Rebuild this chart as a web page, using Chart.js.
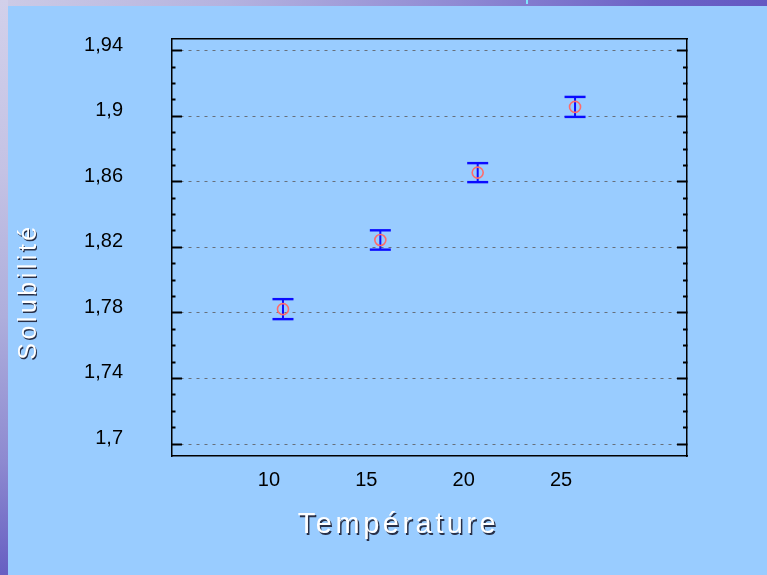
<!DOCTYPE html>
<html>
<head>
<meta charset="utf-8">
<script src="https://cdn.jsdelivr.net/npm/chart.js@4/dist/chart.umd.min.js"></script>
<style>
  html, body { margin: 0; padding: 0; }
  body { width: 767px; height: 575px; overflow: hidden; position: relative; background: #99ccff; }
  #stripeTop { position: absolute; left: 0; top: 0; width: 767px; height: 6px;
    background: linear-gradient(90deg, #cdcbe6 0%, #b4b2df 30%, #8f89d3 60%, #6c62c6 85%, #6458c2 100%); }
  #stripeLeft { position: absolute; left: 0; top: 0; width: 8px; height: 575px;
    background: linear-gradient(180deg, #d2d0ea 0%, #c4c2e4 30%, #aeaedc 55%, #8e8ad0 80%, #675fc2 100%); }
  #mark { position: absolute; left: 526px; top: 0; width: 2px; height: 4px; background: #7fe6ff; }
  #c { position: absolute; left: 0; top: 0; }
</style>
</head>
<body>
<div id="stripeTop"></div>
<div id="stripeLeft"></div>
<div id="mark"></div>
<canvas id="c" width="767" height="575"></canvas>
<script>
// ---- data ----
const temperatures = [10, 15, 20, 25];
const solubilityMeans = [1.7823, 1.8245, 1.8656, 1.9057];
const errorHalfWidths = [0.0061, 0.0059, 0.0058, 0.0061];
const xTickLabels = ['10', '15', '20', '25'];
const yMajorTickValues = [1.70, 1.74, 1.78, 1.82, 1.86, 1.90, 1.94];
const yTickLabels = ['1,7', '1,74', '1,78', '1,82', '1,86', '1,9', '1,94'];
const yMinorStep = 0.01;
const xTitle = 'Température';
const yTitle = 'Solubilité';

// ---- derived structures ----
const yAllTicks = [];
for (let v = yMajorTickValues[0]; v <= yMajorTickValues[yMajorTickValues.length - 1] + 1e-9; v += yMinorStep) {
  yAllTicks.push(Math.round(v * 100) / 100);
}
const isMajor = v => yMajorTickValues.some(m => Math.abs(m - v) < 1e-6);

const meanPoints = temperatures.map((t, i) => ({x: t, y: solubilityMeans[i]}));
const capPoints = [];
const barPoints = [];
temperatures.forEach((t, i) => {
  const lo = solubilityMeans[i] - errorHalfWidths[i];
  const hi = solubilityMeans[i] + errorHalfWidths[i];
  capPoints.push({x: t, y: lo}, {x: t, y: hi});
  barPoints.push({x: t, y: lo}, {x: t, y: hi}, {x: t, y: null});
});

const FONT = "'Liberation Sans', Arial, sans-serif";
const BLUE = '#0b0bff';

// minor ticks: short mark touching the frame; major ticks: full length
const tickDashLeft = c => (c.tick && isMajor(c.tick.value)) ? [] : [0, 6.5, 5, 100];
const tickDashRight = c => (c.tick && isMajor(c.tick.value)) ? [] : [4.5, 100];

const textStyler = {
  id: 'textStyler',
  beforeDraw(chart) {
    chart.boxes.forEach(b => {
      if (b.options && typeof b.options.text === 'string' && !b._styled) {
        const orig = b.draw;
        b.draw = function (...a) {
          const ctx = this.ctx;
          ctx.save();
          ctx.letterSpacing = '3.5px';
          ctx.shadowColor = 'rgba(20,20,40,0.85)';
          ctx.shadowOffsetX = 1.5;
          ctx.shadowOffsetY = 1.5;
          ctx.shadowBlur = 0.5;
          orig.apply(this, a);
          ctx.restore();
        };
        b._styled = true;
      }
    });
  }
};

const noPad = s => { s.paddingTop = 0; s.paddingBottom = 0; };

const yRange = {min: 1.69268, max: 1.94714};
const xRange = {min: 4.30, max: 30.75};

new Chart(document.getElementById('c'), {
  type: 'scatter',
  data: {
    datasets: [
      { label: 'means', data: meanPoints, pointStyle: 'circle', pointRadius: 5.5,
        pointBorderWidth: 1.6, pointBorderColor: '#ff6b6b', pointBackgroundColor: 'rgba(0,0,0,0)' },
      { label: 'caps', data: capPoints, pointStyle: 'line', pointRadius: 10.5,
        pointBorderWidth: 2.4, pointBorderColor: BLUE },
      { label: 'bars', type: 'line', data: barPoints, showLine: true, spanGaps: false,
        pointRadius: 0, borderColor: BLUE, borderWidth: 2 }
    ]
  },
  options: {
    responsive: false,
    animation: false,
    devicePixelRatio: 1,
    events: [],
    layout: { padding: { left: 30, right: 0, top: 39, bottom: 31 } },
    plugins: {
      legend: { display: false },
      tooltip: { enabled: false },
      title: {
        display: true, position: 'bottom', text: xTitle, color: '#ffffff',
        font: { family: FONT, size: 29, weight: 'normal', lineHeight: 1 },
        padding: { top: 0, bottom: 4.5 }
      },
      subtitle: {
        display: true, position: 'left', text: yTitle, color: '#ffffff',
        font: { family: FONT, size: 25, weight: 'normal', lineHeight: 0 },
        padding: { top: -1, bottom: 1 }
      }
    },
    scales: {
      x: {
        type: 'linear', position: 'bottom', min: xRange.min, max: xRange.max,
        afterBuildTicks: s => { s.ticks = temperatures.map(v => ({value: v})); },
        afterFit: s => { s.height = 54.5; s.paddingLeft = 0; s.paddingRight = 0; },
        grid: { display: false, drawTicks: false },
        border: { display: true, color: '#000', width: 1.5 },
        ticks: {
          autoSkip: false, maxRotation: 0, padding: 12, labelOffset: -14,
          color: '#000', font: { family: FONT, size: 20 },
          callback: v => { const i = temperatures.indexOf(v); return i >= 0 ? xTickLabels[i] : ''; }
        }
      },
      x2: {
        type: 'linear', position: 'top', min: xRange.min, max: xRange.max,
        afterFit: s => { s.height = 0; s.paddingLeft = 0; s.paddingRight = 0; },
        grid: { display: false, drawTicks: false },
        border: { display: true, color: '#000', width: 1.5 },
        ticks: { display: false }
      },
      y: {
        type: 'linear', position: 'left', min: yRange.min, max: yRange.max,
        afterBuildTicks: s => { s.ticks = yAllTicks.map(v => ({value: v})); },
        afterFit: s => { s.width = 142; noPad(s); },
        grid: {
          drawOnChartArea: true, drawTicks: true, tickLength: -10,
          color: c => (c.tick && isMajor(c.tick.value)) ? 'rgba(100,105,115,0.95)' : 'rgba(0,0,0,0)',
          lineWidth: 1,
          tickColor: '#000', tickWidth: 2,
          tickBorderDash: tickDashLeft
        },
        border: { display: true, color: '#000', width: 1.5, dash: [3, 5] },
        ticks: {
          autoSkip: false, padding: 59, labelOffset: -5.5,
          color: '#000', font: { family: FONT, size: 20 },
          callback: v => { const i = yMajorTickValues.findIndex(m => Math.abs(m - v) < 1e-6); return i >= 0 ? yTickLabels[i] : ''; }
        }
      },
      y2: {
        type: 'linear', position: 'right', min: yRange.min, max: yRange.max,
        afterBuildTicks: s => { s.ticks = yAllTicks.map(v => ({value: v})); },
        afterFit: s => { s.width = 80; noPad(s); },
        grid: {
          drawOnChartArea: false, drawTicks: true, tickLength: -10,
          tickColor: '#000', tickWidth: 2, tickBorderDash: tickDashRight
        },
        border: { display: true, color: '#000', width: 1.5 },
        ticks: { display: false, autoSkip: false }
      }
    }
  },
  plugins: [textStyler]
});
</script>
</body>
</html>
